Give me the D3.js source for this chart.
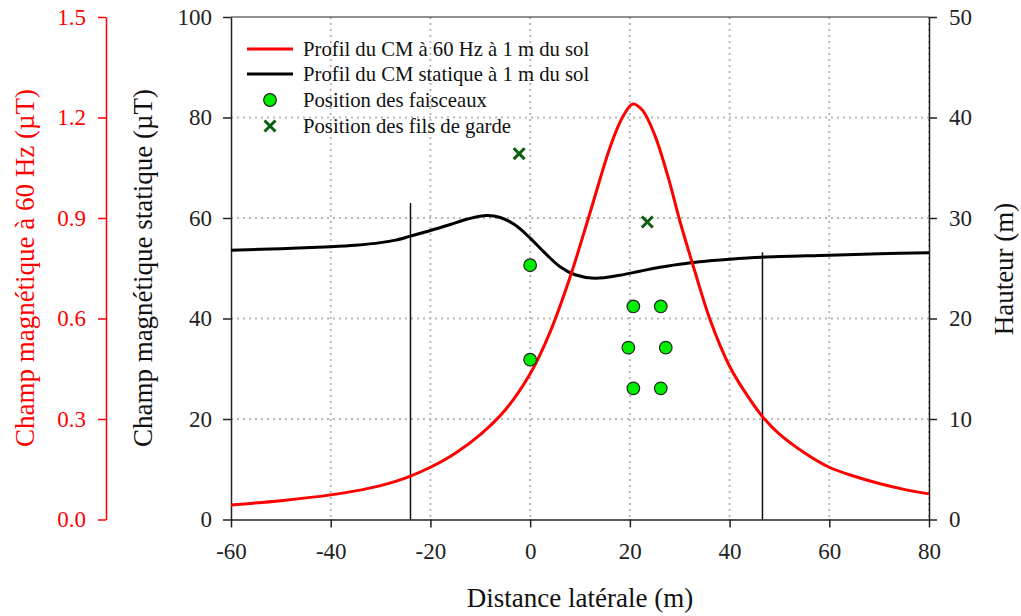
<!DOCTYPE html>
<html><head><meta charset="utf-8">
<script src="https://cdn.jsdelivr.net/npm/d3@7"></script>
<style>body{margin:0;background:#fff}svg{display:block}svg text{font-family:'Liberation Serif','Times New Roman',serif}</style>
</head><body>
<svg id="c" width="1021" height="616"></svg>
<script>
// ---- data ----
const xTicks = [-60,-40,-20,0,20,40,60,80];
const leftTicks = [0,20,40,60,80,100];
const redTicks = [0.0,0.3,0.6,0.9,1.2,1.5];
const rightTicks = [0,10,20,30,40,50];

// 60 Hz field profile (µT, red axis)
const redX = [-60,-50,-40,-35,-30,-27,-24,-20,-15,-10,-5,0,4,8,12,16,18.5,20.6,22.5,25,28,30,33,36,40,44,47,50,55,60,65,70,75,80];
const redY = [0.0435,0.05625,0.0735,0.0855,0.10125,0.114,0.12975,0.156,0.198,0.2535,0.327,0.435,0.5595,0.723,0.915,1.11,1.20,1.2405,1.2225,1.1475,1.005,0.8925,0.7425,0.60,0.4575,0.36,0.30,0.255,0.1995,0.156,0.129,0.10725,0.09,0.0765];

// static field profile (µT, left axis)
const blackX = [-60,-50,-40,-35,-30,-27,-24,-20,-16,-12.5,-8.7,-6,-3,0,3,6,9,13,18,22,26,30,34,40,46.5,60,70,80];
const blackY = [53.6,53.9,54.3,54.6,55.1,55.6,56.4,57.5,58.7,59.8,60.5,60.1,58.6,56.0,53.0,50.3,48.7,48.0,48.6,49.4,50.2,50.8,51.3,51.8,52.2,52.6,52.9,53.1];

// conductor bundles and ground wires (height, m)
const bundleX = [0,0,20.7,26.2,19.7,27.2,20.7,26.2];
const bundleH = [25.3,15.9,21.2,21.2,17.1,17.1,13.05,13.05];
const groundX = [-2.2,23.5];
const groundH = [36.4,29.6];
const towerX = [-24,46.6];
const towerH = [31.5,26.6];

const legendLabels = ["Profil du CM à 60 Hz à 1 m du sol","Profil du CM statique à 1 m du sol","Position des faisceaux","Position des fils de garde"];

// ---- drawing ----
const svg = d3.select("#c");
const FONT = "'Liberation Serif','Times New Roman',serif";
const L=231,R=929,T=17,B=519.5;
const x = d3.scaleLinear([-60,80],[L,R]);
const yL = d3.scaleLinear([0,100],[B,T]);
const yRed = d3.scaleLinear([0,1.5],[B,T]);
const yH = d3.scaleLinear([0,50],[B,T]);
const GREEN="#00ee00", DKGREEN="#0b5e0b";

// grid
const gridStyle = s => s.attr("stroke","#b8b8b8").attr("stroke-width",2).attr("stroke-dasharray","2,4");
svg.append("g").selectAll("line").data(xTicks.filter(d=>d>-60)).join("line")
 .attr("x1",d=>x(d)).attr("x2",d=>x(d)).attr("y1",T).attr("y2",B).call(gridStyle);
svg.append("g").selectAll("line").data(leftTicks.filter(d=>d>0&&d<100)).join("line")
 .attr("x1",L).attr("x2",R).attr("y1",d=>yL(d)).attr("y2",d=>yL(d)).call(gridStyle);

// frame top
svg.append("line").attr("x1",L).attr("x2",R).attr("y1",T).attr("y2",T).attr("stroke","#222").attr("stroke-width",1.2);

function styleAxis(sel,color,size){
  sel.attr("font-family",FONT).attr("font-size",size);
  sel.selectAll("path").attr("stroke",color).attr("stroke-width",1.5);
  sel.selectAll("line").attr("stroke",color).attr("stroke-width",1.5);
  sel.selectAll("text").attr("fill",color).style("font-family",FONT).style("font-size",size+"px");
}
const TS=23;
const ax = svg.append("g").attr("transform",`translate(0,${B})`)
 .call(d3.axisBottom(x).tickValues(xTicks).tickFormat(d=>String(d)).tickSize(8).tickSizeOuter(0).tickPadding(15));
styleAxis(ax,"#222",TS);
const al = svg.append("g").attr("transform",`translate(${L},0)`)
 .call(d3.axisLeft(yL).tickValues(leftTicks).tickSize(8).tickSizeOuter(0).tickPadding(11));
styleAxis(al,"#222",TS);
const ar = svg.append("g").attr("transform",`translate(106,0)`)
 .call(d3.axisLeft(yRed).tickValues(redTicks).tickFormat(d3.format(".1f")).tickSize(8).tickSizeOuter(0).tickPadding(12));
styleAxis(ar,"#ff0000",TS);
const ah = svg.append("g").attr("transform",`translate(${R},0)`)
 .call(d3.axisRight(yH).tickValues(rightTicks).tickSize(8).tickSizeOuter(0).tickPadding(12));
styleAxis(ah,"#222",TS);

// towers
svg.append("g").selectAll("line").data(towerX).join("line")
 .attr("x1",d=>x(d)).attr("x2",d=>x(d)).attr("y1",B).attr("y2",(d,i)=>yH(towerH[i]))
 .attr("stroke","#111").attr("stroke-width",1.5);

// curves
const redData = redX.map((d,i)=>[d,redY[i]]);
const blackData = blackX.map((d,i)=>[d,blackY[i]]);
svg.append("path").datum(blackData)
 .attr("d",d3.line().x(d=>x(d[0])).y(d=>yL(d[1])).curve(d3.curveCatmullRom.alpha(0.5)))
 .attr("fill","none").attr("stroke","#000").attr("stroke-width",3);
svg.append("path").datum(redData)
 .attr("d",d3.line().x(d=>x(d[0])).y(d=>yRed(d[1])).curve(d3.curveCatmullRom.alpha(0.5)))
 .attr("fill","none").attr("stroke","#ff0000").attr("stroke-width",3);

// markers
svg.append("g").selectAll("circle").data(bundleX.map((d,i)=>[d,bundleH[i]])).join("circle")
 .attr("cx",d=>x(d[0])).attr("cy",d=>yH(d[1])).attr("r",6.3)
 .attr("fill",GREEN).attr("stroke","#222").attr("stroke-width",1.2);
const cross = d3.symbol().type(d3.symbolX).size(80);
svg.append("g").selectAll("path").data(groundX.map((d,i)=>[d,groundH[i]])).join("path")
 .attr("d",cross).attr("transform",d=>`translate(${x(d[0])},${yH(d[1])})`)
 .attr("fill","none").attr("stroke",DKGREEN).attr("stroke-width",3);

// legend
const lg = svg.append("g");
const ly = [49,74,100,126];
lg.append("line").attr("x1",247).attr("x2",293).attr("y1",ly[0]).attr("y2",ly[0]).attr("stroke","#ff0000").attr("stroke-width",3);
lg.append("line").attr("x1",247).attr("x2",293).attr("y1",ly[1]).attr("y2",ly[1]).attr("stroke","#000").attr("stroke-width",3);
lg.append("circle").attr("cx",270).attr("cy",ly[2]).attr("r",6.3).attr("fill",GREEN).attr("stroke","#222").attr("stroke-width",1.2);
lg.append("path").attr("d",cross).attr("transform",`translate(270,${ly[3]})`).attr("fill","none").attr("stroke",DKGREEN).attr("stroke-width",3);
lg.selectAll("text").data(legendLabels).join("text")
 .attr("x",303).attr("y",(d,i)=>ly[i]).attr("dy","0.35em")
 .style("font-family",FONT).style("font-size","20.7px").attr("fill","#111").text(d=>d);

// titles
const TT=27;
svg.append("text").attr("x",580).attr("y",607).attr("text-anchor","middle")
 .style("font-family",FONT).style("font-size",TT+"px").attr("fill","#111").text("Distance latérale (m)");
svg.append("text").attr("transform","translate(34,268) rotate(-90)").attr("text-anchor","middle")
 .style("font-family",FONT).style("font-size",TT+"px").attr("fill","#ff0000").text("Champ magnétique à 60 Hz (µT)");
svg.append("text").attr("transform","translate(152,268) rotate(-90)").attr("text-anchor","middle")
 .style("font-family",FONT).style("font-size",TT+"px").attr("fill","#111").text("Champ magnétique statique (µT)");
svg.append("text").attr("transform","translate(1013,269) rotate(-90)").attr("text-anchor","middle")
 .style("font-family",FONT).style("font-size",TT+"px").attr("fill","#111").text("Hauteur (m)");
</script>
</body></html>
